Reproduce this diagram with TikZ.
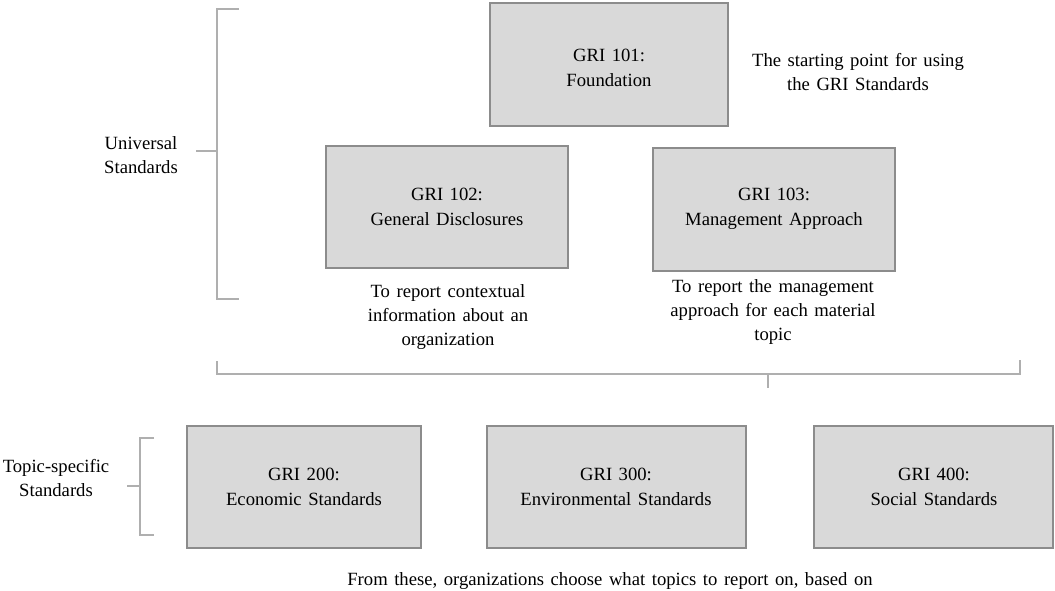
\documentclass[tikz,border=0pt]{standalone}
\usepackage{fontspec}
\setmainfont{Liberation Serif}[WordSpace=1.4]
\definecolor{boxfill}{RGB}{217,217,217}
\definecolor{boxline}{RGB}{140,140,140}
\definecolor{brk}{RGB}{175,175,175}
\begin{document}
\begin{tikzpicture}[x=0.75pt,y=-0.75pt,
  gbox/.style={draw=boxline,fill=boxfill,line width=0.8pt},
  lbl/.style={align=center,font=\fontsize{14}{18.3}\selectfont,inner sep=0pt},
  brline/.style={draw=brk,line width=0.9pt}]
\useasboundingbox (0,0) rectangle (1055,590);
% boxes
\path[gbox] (490,3) rectangle (728,126);
\node[lbl] (g101) at (609,68) {GRI 101:\\Foundation};
\path[gbox] (326,146) rectangle (568,268);
\node[lbl] (g102) at (447,207) {GRI 102:\\General Disclosures};
\path[gbox] (653,148) rectangle (895,271);
\node[lbl] (g103) at (774,209) {GRI 103:\\Management Approach};
\path[gbox] (187,426) rectangle (421,548);
\node[lbl] (g200) at (304,487) {GRI 200:\\Economic Standards};
\path[gbox] (487,426) rectangle (746,548);
\node[lbl] (g300) at (616,487) {GRI 300:\\Environmental Standards};
\path[gbox] (814,426) rectangle (1053,548);
\node[lbl] (g400) at (934,487) {GRI 400:\\Social Standards};
% labels
\node[lbl] (start) at (858,72) {The starting point for using\\the GRI Standards};
\node[lbl] (ctx) at (448,317) {To report contextual\\information about an\\organization};
\node[lbl] (mgmt) at (773,312) {To report the management\\approach for each material\\topic};
\node[lbl] (univ) at (141,155) {Universal\\Standards};
\node[lbl] (topic) at (56,478) {Topic-specific\\Standards};
\node[lbl,anchor=base] (from) at (610,585) {From these, organizations choose what topics to report on, based on};
% brackets
\draw[brline] (239,9) -- (217,9) -- (217,299) -- (239,299);
\draw[brline] (196,151) -- (217,151);
\draw[brline] (217,361) -- (217,374) -- (1020,374) -- (1020,360);
\draw[brline] (768,374) -- (768,388);
\draw[brline] (154,438) -- (140,438) -- (140,535) -- (154,535);
\draw[brline] (127,486) -- (140,486);
\end{tikzpicture}
\end{document}
